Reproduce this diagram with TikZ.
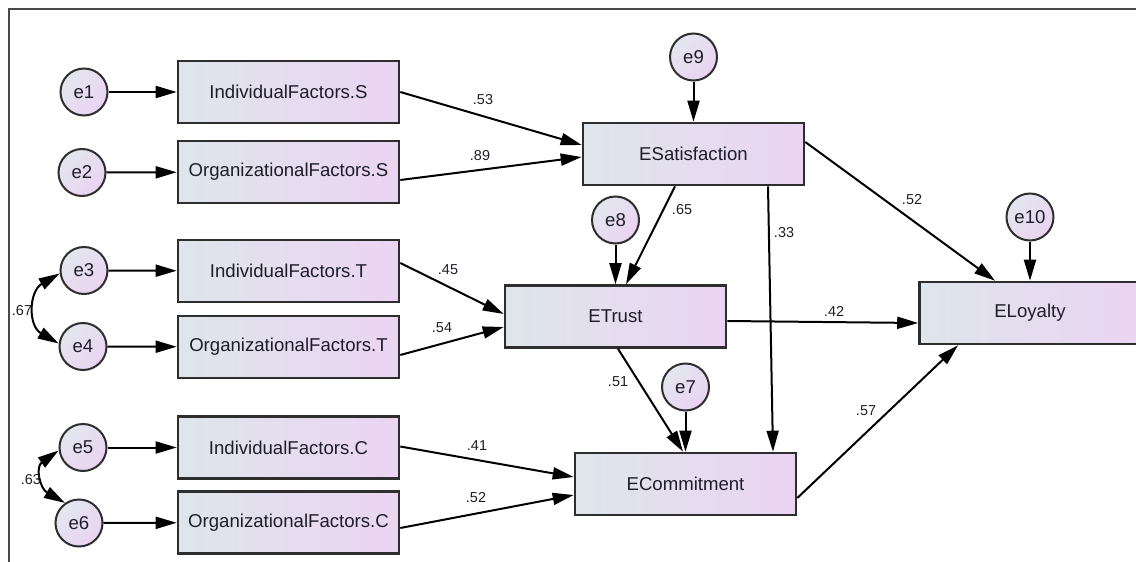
\documentclass[tikz,border=0pt]{standalone}
\usepackage{fontspec}
\setmainfont{Liberation Sans}
\usetikzlibrary{arrows.meta,calc}
\definecolor{boxL}{HTML}{DEE6EB}
\definecolor{boxR}{HTML}{EBD4F2}
\definecolor{circL}{HTML}{E3E7EF}
\definecolor{circR}{HTML}{EAD3F1}
\definecolor{edgecol}{HTML}{2E2E2E}
\definecolor{txt}{HTML}{1E1E2A}
\definecolor{framecol}{HTML}{4A4A4A}
\begin{document}
\begin{tikzpicture}[x=0.5pt,y=-0.5pt,
  obs/.style={draw=edgecol, line width=1.3pt, left color=boxL, right color=boxR,
    minimum width=110.5pt, minimum height=31pt, inner sep=0pt,
    font=\fontsize{9.3}{11}\selectfont, text=txt},
  err/.style={circle, draw=edgecol, line width=1pt, left color=circL, right color=circR,
    shading angle=45, minimum size=23.5pt, inner sep=0pt,
    font=\fontsize{9.3}{11}\selectfont, text=txt},
  path/.style={line width=1pt, draw=black, -{Triangle[length=10.5pt,width=6pt]}},
  cov/.style={line width=1pt, draw=black, {Triangle[length=10.5pt,width=6pt]}-{Triangle[length=10.5pt,width=6pt]}},
  lab/.style={font=\fontsize{7.2}{8}\selectfont, text=txt, inner sep=0pt}]
\useasboundingbox (0,0) rectangle (1136,562);
\clip (0,0) rectangle (1136,562);
\draw[framecol, line width=0.8pt] (1140,9) -- (9,9) -- (9,566);

% observed / latent boxes
\node[obs] (ifS) at (288.5,92) {IndividualFactors.S};
\node[obs] (ofS) at (288.5,172) {OrganizationalFactors.S};
\node[obs] (ifT) at (288.5,271) {IndividualFactors.T};
\node[obs] (ofT) at (288.5,347) {OrganizationalFactors.T};
\node[obs] (ifC) at (288.5,447.5) {IndividualFactors.C};
\node[obs] (ofC) at (288.5,522.5) {OrganizationalFactors.C};
\node[obs] (esat) at (693.5,154) {ESatisfaction};
\node[obs] (etr) at (615.5,316.5) {ETrust};
\node[obs] (ecom) at (685.5,484) {ECommitment};
\node[obs] (eloy) at (1030,313) {ELoyalty};

% error terms
\node[err] (e1) at (84,92) {e1};
\node[err] (e2) at (82,172.5) {e2};
\node[err] (e3) at (84,270.5) {e3};
\node[err] (e4) at (83,346.5) {e4};
\node[err] (e5) at (83,447.5) {e5};
\node[err] (e6) at (79,523) {e6};
\node[err] (e9) at (693.5,57) {e9};
\node[err] (e8) at (615.5,220) {e8};
\node[err] (e7) at (685.5,387) {e7};
\node[err] (e10) at (1030,217) {e10};

% error arrows
\draw[path] (e1) -- (ifS);
\draw[path] (e2) -- (ofS);
\draw[path] (e3) -- (ifT);
\draw[path] (e4) -- (ofT);
\draw[path] (e5) -- (ifC);
\draw[path] (e6) -- (ofC);
\draw[path] (e9) -- (esat);
\draw[path] (e8) -- (etr);
\draw[path] (e7) -- (ecom);
\draw[path] (e10) -- (eloy);

% covariances
\draw[cov] (e3.187) to[out=210,in=150,looseness=1.3] (e4.173);
\draw[cov] (e5.187) to[out=215,in=150,looseness=1.4] (e6.125);

% structural paths
\draw[path] (ifS.east) -- ($(esat.west)+(0,-9)$);
\draw[path] ($(ofS.east)+(0,8)$) -- ($(esat.west)+(0,3)$);
\draw[path] ($(ifT.east)+(0,-8)$) -- ($(etr.west)+(0,-2.5)$);
\draw[path] ($(ofT.east)+(0,8)$) -- ($(etr.west)+(0,10.5)$);
\draw[path] ($(ifC.east)+(0,-1)$) -- ($(ecom.west)+(0,-7)$);
\draw[path] ($(ofC.east)+(0,5.5)$) -- ($(ecom.west)+(0,11)$);
\draw[path] ($(esat.south)+(-18.5,0)$) -- ($(etr.north)+(10.5,0)$);
\draw[path] ($(esat.south)+(74.5,0)$) -- ($(ecom.north)+(87.5,0)$);
\draw[path] ($(esat.east)+(0,-12)$) -- ($(eloy.north)+(-35,0)$);
\draw[path] ($(etr.east)+(0,4.5)$) -- ($(eloy.west)+(0,10)$);
\draw[path] ($(etr.south)+(2.5,0)$) -- ($(ecom.north)+(-2.5,0)$);
\draw[path] ($(ecom.east)+(0,14)$) -- ($(eloy.south)+(-72,0)$);

% coefficient labels
\node[lab] (l53) at (483,100) {.53};
\node[lab] (l89) at (480,156) {.89};
\node[lab] (l45) at (448,270) {.45};
\node[lab] (l54) at (442,328) {.54};
\node[lab] (l41) at (477,446) {.41};
\node[lab] (l52a) at (476,498) {.52};
\node[lab] (l65) at (682,210) {.65};
\node[lab] (l33) at (784,233) {.33};
\node[lab] (l52b) at (912,200) {.52};
\node[lab] (l42) at (834,311) {.42};
\node[lab] (l51) at (618,382) {.51};
\node[lab] (l57) at (866,411) {.57};
\node[lab] (l67) at (22,311) {.67};
\node[lab] (l63) at (31,480) {.63};
\end{tikzpicture}
\end{document}
